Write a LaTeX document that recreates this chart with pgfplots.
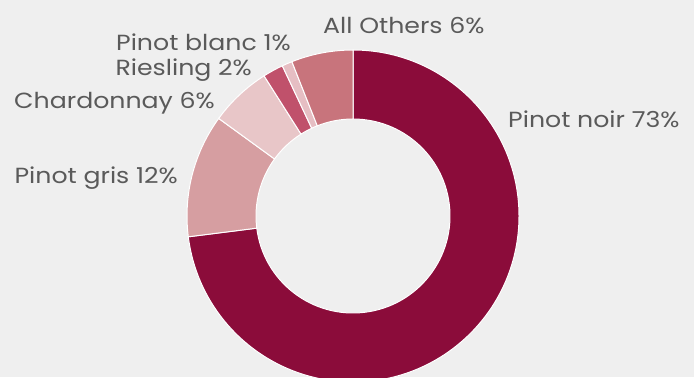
\documentclass[border=0pt]{standalone}
\usepackage{pgfplots}
\usepackage{pgfplotstable}
\pgfplotsset{compat=1.18}
\usepackage{fontspec}
\setmainfont{Poppins}[FakeStretch=1.15]
\definecolor{bgcol}{HTML}{EFEFEF}
\definecolor{txt}{HTML}{5A5A5A}
\definecolor{c0}{HTML}{8B0C3A}
\definecolor{c1}{HTML}{D69EA1}
\definecolor{c2}{HTML}{E8C6C8}
\definecolor{c3}{HTML}{C0516B}
\definecolor{c4}{HTML}{E6BEC3}
\definecolor{c5}{HTML}{C8747C}
\pgfplotstableread{
label value
PinotNoir 73
PinotGris 12
Chardonnay 6
Riesling 2
PinotBlanc 1
AllOthers 6
}\wine
\begin{document}
\begin{tikzpicture}
\begin{axis}[
  x=1bp, y=1bp,
  xmin=0, xmax=694, ymin=0, ymax=377,
  axis lines=none, ticks=none,
  clip=true,
  axis background/.style={fill=bgcol},
]
\pgfplotsextra{
  \gdef\cum{0}
  \foreach \i/\col in {0/c0,1/c1,2/c2,3/c3,4/c4,5/c5}{
    \pgfplotstablegetelem{\i}{value}\of\wine
    \let\v\pgfplotsretval
    \pgfmathsetmacro\a{90-3.6*\cum}
    \pgfmathsetmacro\b{90-3.6*(\cum+\v)}
    \fill[\col, draw=white, line width=1bp]
      (axis cs:353,161) ++(\a:166bp)
      arc[start angle=\a, end angle=\b, radius=166bp]
      -- ++(\b+180:69bp)
      arc[start angle=\b, end angle=\a, radius=97bp] -- cycle;
    \pgfmathsetmacro\n{\cum+\v}
    \xdef\cum{\n}
  }
}
\begin{scope}[every node/.style={text=txt, font=\fontsize{22}{26}\selectfont, inner sep=0pt}]
\node[anchor=base west] at (axis cs:508,250) {Pinot noir 73\%};
\node[anchor=base west] at (axis cs:323,344) {All Others 6\%};
\node[anchor=base east] at (axis cs:291,327) {Pinot blanc 1\%};
\node[anchor=base east] at (axis cs:252,302) {Riesling 2\%};
\node[anchor=base east] at (axis cs:215,269) {Chardonnay 6\%};
\node[anchor=base east] at (axis cs:178,194) {Pinot gris 12\%};
\end{scope}
\end{axis}
\end{tikzpicture}
\end{document}
